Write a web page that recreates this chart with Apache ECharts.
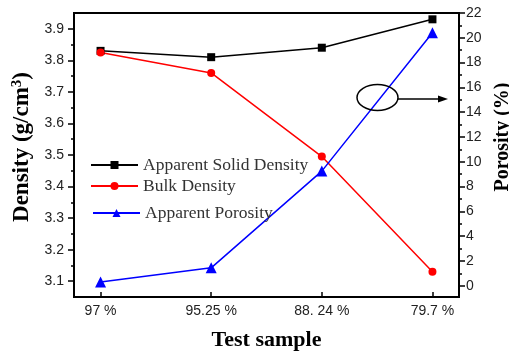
<!DOCTYPE html>
<html>
<head>
<meta charset="utf-8">
<script src="https://cdn.jsdelivr.net/npm/echarts@6/dist/echarts.min.js"></script>
<style>
  html, body { margin: 0; padding: 0; background: #fff; }
  #chart { width: 509px; height: 354px; }
</style>
</head>
<body>
<div id="chart"></div>
<script>
// Test samples (porosity-labelled) along the x axis
const samples = ['97 %', '95.25 %', '88. 24 %', '79.7 %'];
// Densities in g/cm3 (left axis)
const solidDensity = [3.83, 3.81, 3.84, 3.93];
const bulkDensity = [3.825, 3.76, 3.495, 3.13];
// Apparent porosity in % (right axis)
const porosity = [0.3, 1.45, 9.25, 20.4];
// Tick labels
const densityTicks = [3.1, 3.2, 3.3, 3.4, 3.5, 3.6, 3.7, 3.8, 3.9];
const densityMinor = [3.15, 3.25, 3.35, 3.45, 3.55, 3.65, 3.75, 3.85];
const porosityTicks = [0, 2, 4, 6, 8, 10, 12, 14, 16, 18, 20, 22];
const porosityMinor = [1, 3, 5, 7, 9, 11, 13, 15, 17, 19, 21];

const pairs = arr => arr.map((v, i) => [i, v]);
const serif = "'Liberation Serif', 'Times New Roman', serif";
const sans = "'Liberation Sans', Arial, sans-serif";

const chart = echarts.init(document.getElementById('chart'), null, { renderer: 'canvas' });

const legendBase = {
  orient: 'vertical',
  padding: 0,
  itemWidth: 47,
  itemHeight: 10,
  itemGap: 0,
  textStyle: { fontFamily: serif, fontSize: 17.5, color: '#333' },
  selectedMode: false
};

const tickStyle = { color: '#000', width: 1.5 };
const tickLabel = { fontFamily: sans, fontSize: 14, color: '#222' };

chart.setOption({
  animation: false,
  backgroundColor: '#fff',
  grid: {
    left: 74, right: 50, top: 13, bottom: 57,
    containLabel: false,
    outerBoundsMode: 'none',
    show: true, borderColor: '#000', borderWidth: 2, backgroundColor: 'transparent'
  },
  legend: [
    Object.assign({}, legendBase, { data: ['Apparent Solid Density'], left: 90, top: 156 }),
    Object.assign({}, legendBase, { data: ['Bulk Density'], left: 90, top: 177 }),
    Object.assign({}, legendBase, { data: ['Apparent Porosity'], left: 92, top: 204 })
  ],
  xAxis: {
    type: 'value',
    min: -0.24, max: 3.24,
    name: 'Test sample',
    nameLocation: 'middle',
    nameGap: 32,
    nameTextStyle: { fontFamily: serif, fontSize: 22, fontWeight: 'bold', color: '#000' },
    axisLine: { show: true, onZero: false, lineStyle: { color: '#000', width: 2 } },
    axisTick: { show: true, inside: true, length: 5, customValues: [0, 1, 2, 3], lineStyle: tickStyle },
    axisLabel: Object.assign({
      customValues: [0, 1, 2, 3],
      formatter: v => samples[Math.round(v)],
      margin: 7
    }, tickLabel),
    splitLine: { show: false }
  },
  yAxis: [
    {
      type: 'value', position: 'left',
      min: 3.05, max: 3.95,
      name: '{a|Density (g/cm}{s|3}{a|)}',
      nameLocation: 'middle',
      nameRotate: 90,
      nameGap: 37,
      nameTextStyle: {
        padding: [0, 0, 0, 16],
        rich: {
          a: { fontFamily: serif, fontSize: 23, fontWeight: 'bold', color: '#000' },
          s: { fontFamily: serif, fontSize: 15, fontWeight: 'bold', color: '#000', verticalAlign: 'top', padding: [0, 0, 11, 0] }
        }
      },
      axisLine: { show: true, onZero: false, lineStyle: { color: '#000', width: 2 } },
      axisTick: { show: true, inside: false, length: 6, customValues: densityTicks, lineStyle: tickStyle },
      axisLabel: Object.assign({ customValues: densityTicks, formatter: v => v.toFixed(1), margin: 10 }, tickLabel),
      splitLine: { show: false }
    },
    {
      type: 'value', position: 'right',
      min: -0.9, max: 22,
      name: 'Porosity (%)',
      nameLocation: 'middle',
      nameRotate: 90,
      nameGap: 28,
      nameTextStyle: { fontFamily: serif, fontSize: 20, fontWeight: 'bold', color: '#000', padding: [0, 0, 0, 36] },
      axisLine: { show: true, onZero: false, lineStyle: { color: '#000', width: 2 } },
      axisTick: { show: true, inside: false, length: 6, customValues: porosityTicks, lineStyle: tickStyle },
      axisLabel: Object.assign({ customValues: porosityTicks, margin: 7 }, tickLabel),
      splitLine: { show: false }
    },
    {
      // minor ticks, density axis
      type: 'value', position: 'left',
      min: 3.05, max: 3.95,
      axisLine: { show: false, onZero: false },
      axisTick: { show: true, inside: false, length: 3, customValues: densityMinor, lineStyle: tickStyle },
      axisLabel: { show: false },
      splitLine: { show: false }
    },
    {
      // minor ticks, porosity axis
      type: 'value', position: 'right',
      min: -0.9, max: 22,
      axisLine: { show: false, onZero: false },
      axisTick: { show: true, inside: false, length: 3, customValues: porosityMinor, lineStyle: tickStyle },
      axisLabel: { show: false },
      splitLine: { show: false }
    }
  ],
  series: [
    {
      name: 'Apparent Solid Density', type: 'line', yAxisIndex: 0,
      data: pairs(solidDensity),
      symbol: 'rect', symbolSize: 8,
      lineStyle: { color: '#000', width: 1.5 },
      itemStyle: { color: '#000' }
    },
    {
      name: 'Bulk Density', type: 'line', yAxisIndex: 0,
      data: pairs(bulkDensity),
      symbol: 'circle', symbolSize: 8,
      lineStyle: { color: '#f00', width: 1.5 },
      itemStyle: { color: '#f00' }
    },
    {
      name: 'Apparent Porosity', type: 'line', yAxisIndex: 1,
      data: pairs(porosity),
      symbol: 'triangle', symbolSize: 11,
      lineStyle: { color: '#00f', width: 1.5 },
      itemStyle: { color: '#00f' }
    }
  ],
  graphic: [
    {
      // circled curve with arrow pointing to the porosity axis
      type: 'ellipse',
      shape: { cx: 377.5, cy: 97.5, rx: 20.5, ry: 13 },
      style: { fill: 'none', stroke: '#000', lineWidth: 1.5 },
      z: 10
    },
    {
      type: 'line',
      shape: { x1: 398, y1: 99, x2: 440, y2: 99 },
      style: { stroke: '#000', lineWidth: 1.5 },
      z: 10
    },
    {
      type: 'polygon',
      shape: { points: [[448, 99], [438, 95.5], [438, 102.5]] },
      style: { fill: '#000' },
      z: 10
    }
  ]
});
</script>
</body>
</html>
